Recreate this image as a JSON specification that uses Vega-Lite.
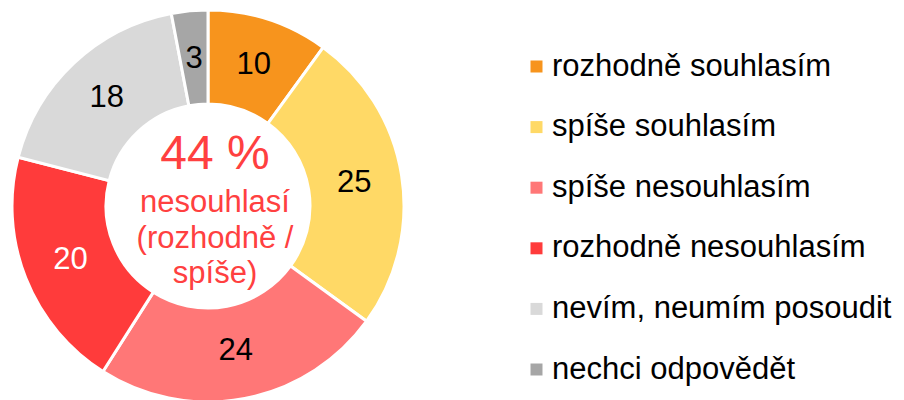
{
  "$schema": "https://vega.github.io/schema/vega-lite/v6.json",
  "width": 416,
  "height": 412,
  "padding": {"left": 0, "top": 0, "right": 488, "bottom": -12},
  "autosize": {"type": "none"},
  "background": "white",
  "config": {"view": {"stroke": null}, "font": "Liberation Sans"},
  "data": {"values": [
    {"i": 1, "cat": "rozhodně souhlasím", "v": 10},
    {"i": 2, "cat": "spíše souhlasím", "v": 25},
    {"i": 3, "cat": "spíše nesouhlasím", "v": 24},
    {"i": 4, "cat": "rozhodně nesouhlasím", "v": 20},
    {"i": 5, "cat": "nevím, neumím posoudit", "v": 18},
    {"i": 6, "cat": "nechci odpovědět", "v": 3}
  ]},
  "layer": [
    {
      "mark": {"type": "arc", "outerRadius": 196, "innerRadius": 102, "stroke": "white", "strokeWidth": 3},
      "encoding": {
        "theta": {"field": "v", "type": "quantitative", "stack": true},
        "order": {"field": "i", "type": "quantitative"},
        "color": {
          "field": "cat", "type": "nominal",
          "scale": {
            "domain": ["rozhodně souhlasím", "spíše souhlasím", "spíše nesouhlasím", "rozhodně nesouhlasím", "nevím, neumím posoudit", "nechci odpovědět"],
            "range": ["#F7941D", "#FFD966", "#FF7777", "#FF3B3B", "#D9D9D9", "#A6A6A6"]
          },
          "legend": {
            "title": null, "orient": "none", "legendX": 521, "legendY": 51,
            "symbolType": "square", "symbolSize": 144, "symbolStrokeWidth": 0,
            "labelFontSize": 31, "labelFont": "Liberation Sans", "labelColor": "black",
            "labelOffset": 0, "rowPadding": 28.6, "labelLimit": 400
          }
        }
      }
    },
    {
      "mark": {"type": "text", "radius": 148, "fontSize": 31, "font": "Liberation Sans"},
      "encoding": {
        "theta": {"field": "v", "type": "quantitative", "stack": true},
        "order": {"field": "i", "type": "quantitative"},
        "text": {"field": "v", "type": "quantitative"},
        "color": {
          "condition": {"test": "datum.i === 4", "value": "white"},
          "value": "black"
        }
      }
    },
    {
      "data": {"values": [{"t": "44 %"}]},
      "mark": {"type": "text", "fontSize": 48, "color": "#FF4040", "dy": -51, "dx": 7, "font": "Liberation Sans"},
      "encoding": {"text": {"field": "t"}}
    },
    {
      "data": {"values": [{"t": "nesouhlasí\n(rozhodně /\nspíše)"}]},
      "mark": {"type": "text", "fontSize": 31, "color": "#FF4040", "dy": -3, "dx": 7, "lineBreak": "\n", "lineHeight": 35.5, "font": "Liberation Sans"},
      "encoding": {"text": {"field": "t"}}
    }
  ]
}
